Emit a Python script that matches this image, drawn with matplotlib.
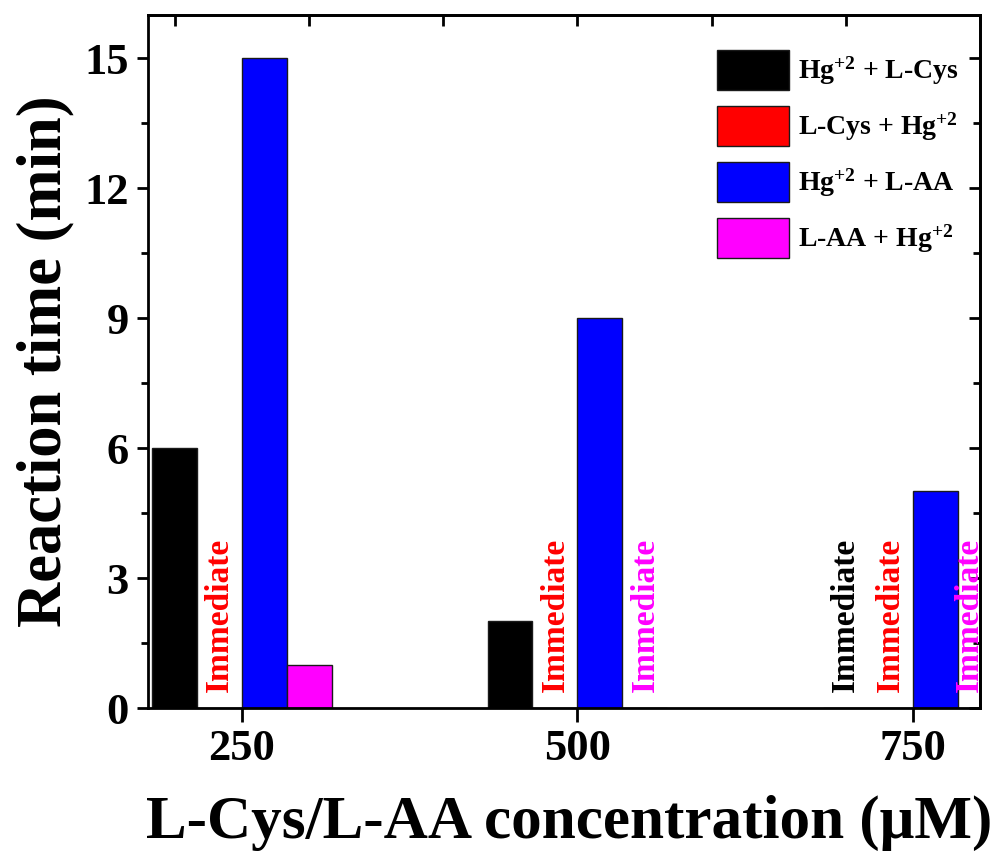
import numpy as np
import matplotlib
matplotlib.use("Agg")
import matplotlib.pyplot as plt

plt.rcParams['font.family'] = ['Liberation Serif', 'DejaVu Serif']
plt.rcParams['font.weight'] = 'bold'
plt.rcParams['mathtext.fontset'] = 'custom'
plt.rcParams['mathtext.rm'] = 'Liberation Serif:bold'
plt.rcParams['mathtext.it'] = 'Liberation Serif:bold'
plt.rcParams['mathtext.bf'] = 'Liberation Serif:bold'

# data (0 = "Immediate")
concentrations = [250, 500, 750]
hg_cys = [6, 2, 0]
cys_hg = [0, 0, 0]
hg_aa = [15, 9, 5]
aa_hg = [1, 0, 0]

series = [hg_cys, cys_hg, hg_aa, aa_hg]
labels = [r'Hg$^{+2}$ + L-Cys', r'L-Cys + Hg$^{+2}$',
          r'Hg$^{+2}$ + L-AA', r'L-AA + Hg$^{+2}$']
colors = ['#000000', '#ff0000', '#0000ff', '#ff00ff']
y_ticks = [0, 3, 6, 9, 12, 15]

width = 33.5
offsets = [-1.5, -0.5, 0.5, 1.5]

fig = plt.figure(figsize=(9.95, 8.58), dpi=100)
ax = fig.add_axes([0.1487, 0.1748, 0.8363, 0.8077])

x = np.array(concentrations, dtype=float)
for vals, lab, col, off in zip(series, labels, colors, offsets):
    ax.bar(x + off * width, vals, width, color=col, edgecolor='#1a1a1a',
           linewidth=1.0, label=lab)
    for xi, v in zip(x, vals):
        if v == 0:
            tx = xi + off * width
            # last label sits just inside the right frame
            if tx > 785:
                tx = 792
            ax.text(tx, 0.38, 'Immediate', rotation=90, ha='center', va='bottom',
                    color=col, fontsize=24, fontweight='bold')

ax.set_xlim(180, 800)
ax.set_ylim(0, 16)
ax.set_xticks(concentrations)
ax.set_yticks(y_ticks)
ax.set_yticks(np.arange(1.5, 16, 3), minor=True)

for s in ax.spines.values():
    s.set_linewidth(2.0)

ax.tick_params(axis='x', which='major', direction='out', length=10, width=2,
               labelsize=32, pad=5)
ax.tick_params(axis='y', which='major', direction='out', length=8, width=2,
               labelsize=32, pad=6)
ax.tick_params(axis='y', which='minor', direction='out', length=5, width=2)

# inward ticks on the top and right frame, no labels
top = ax.secondary_xaxis('top')
top.set_xticks(np.arange(200, 801, 100))
top.tick_params(direction='in', length=8, width=2, labeltop=False)
right = ax.secondary_yaxis('right')
right.set_yticks(y_ticks)
right.set_yticks(np.arange(1.5, 16, 3), minor=True)
right.tick_params(which='major', direction='in', length=8, width=2, labelright=False)
right.tick_params(which='minor', direction='in', length=5, width=2)
for sec in (top, right):
    for s in sec.spines.values():
        s.set_linewidth(2.0)

ax.set_xlabel('L-Cys/L-AA concentration (\u03bcM)', fontsize=44, fontweight='bold')
ax.set_ylabel('Reaction time (min)', fontsize=45, fontweight='bold')
ax.xaxis.set_label_coords(0.506, -0.125)
ax.yaxis.set_label_coords(-0.088, 0.5)

ax.legend(loc='upper left', bbox_to_anchor=(0.684, 0.949), frameon=False,
          fontsize=20, handlelength=2.6, handleheight=1.8, labelspacing=0.6,
          handletextpad=0.3, borderpad=0, borderaxespad=0)

fig.savefig('out.png', dpi=100)
